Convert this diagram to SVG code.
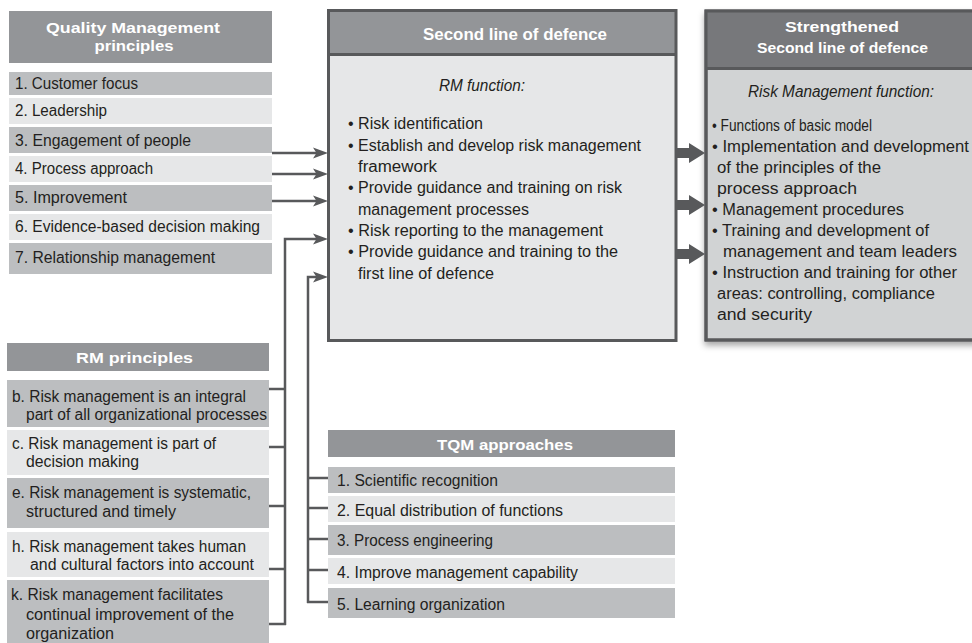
<svg xmlns="http://www.w3.org/2000/svg" width="972" height="643" viewBox="0 0 972 643">
<defs>
<style>
.hd{fill:#939598}
.dk{fill:#bcbec0}
.lt{fill:#e6e7e8}
.t{font-family:"Liberation Sans",Arial,sans-serif;font-size:16px;fill:#231f20}
.i{font-style:italic}
.h{font-family:"Liberation Sans",Arial,sans-serif;font-weight:bold;font-size:15px;fill:#ffffff;text-anchor:middle}
.h16{font-size:16px}
.ln{stroke:#58595b;stroke-width:2.5;fill:none}
.bd{stroke:#58595b;stroke-width:3;fill:none}
.fa{fill:#58595b}
</style>
<marker id="ah" markerWidth="15" markerHeight="12" refX="7" refY="6" orient="auto" markerUnits="userSpaceOnUse">
<path d="M0,0.5 L15,6 L0,11.5 L3.5,6 z" fill="#58595b"/>
</marker>
<filter id="sh" x="-10%" y="-10%" width="130%" height="130%">
<feDropShadow dx="0" dy="4" stdDeviation="3" flood-color="#000000" flood-opacity="0.35"/>
</filter>
</defs>
<rect width="972" height="643" fill="#ffffff"/>

<g id="qm-principles">
<rect class="hd" x="9" y="11" width="263" height="52"/>
<text class="h" x="133" y="33" textLength="174" lengthAdjust="spacingAndGlyphs">Quality Management</text>
<text class="h" x="134" y="51" textLength="79" lengthAdjust="spacingAndGlyphs">principles</text>
<rect class="dk" x="9" y="72" width="263" height="23"/>
<text class="t" x="15" y="89" textLength="123" lengthAdjust="spacingAndGlyphs">1. Customer focus</text>
<rect class="lt" x="9" y="98" width="263" height="26"/>
<text class="t" x="15" y="116" textLength="92" lengthAdjust="spacingAndGlyphs">2. Leadership</text>
<rect class="dk" x="9" y="127" width="263" height="26"/>
<text class="t" x="15" y="146" textLength="176" lengthAdjust="spacingAndGlyphs">3. Engagement of people</text>
<rect class="lt" x="9" y="156" width="263" height="26"/>
<text class="t" x="15" y="174" textLength="138" lengthAdjust="spacingAndGlyphs">4. Process approach</text>
<rect class="dk" x="9" y="185" width="263" height="26"/>
<text class="t" x="15" y="203" textLength="112" lengthAdjust="spacingAndGlyphs">5. Improvement</text>
<rect class="lt" x="9" y="214" width="263" height="26"/>
<text class="t" x="15" y="232" textLength="245" lengthAdjust="spacingAndGlyphs">6. Evidence-based decision making</text>
<rect class="dk" x="9" y="243" width="263" height="31"/>
<text class="t" x="15" y="263" textLength="200" lengthAdjust="spacingAndGlyphs">7. Relationship management</text>
</g>

<g id="second-line">
<rect x="328.5" y="10.5" width="347.5" height="330" fill="#e6e7e8"/>
<rect class="hd" x="328.5" y="10.5" width="347.5" height="44"/>
<line class="bd" x1="328.5" y1="54.5" x2="676" y2="54.5"/>
<rect class="bd" x="328.5" y="10.5" width="347.5" height="330"/>
<text class="h h16" x="515" y="40" textLength="184" lengthAdjust="spacingAndGlyphs">Second line of defence</text>
<text class="t i" x="439" y="91" textLength="86" lengthAdjust="spacingAndGlyphs">RM function:</text>
<text class="t" x="348" y="129" textLength="135" lengthAdjust="spacingAndGlyphs">• Risk identification</text>
<text class="t" x="348" y="151" textLength="293" lengthAdjust="spacingAndGlyphs">• Establish and develop risk management</text>
<text class="t" x="358" y="172" textLength="79" lengthAdjust="spacingAndGlyphs">framework</text>
<text class="t" x="348" y="193" textLength="274" lengthAdjust="spacingAndGlyphs">• Provide guidance and training on risk</text>
<text class="t" x="358" y="215" textLength="171" lengthAdjust="spacingAndGlyphs">management processes</text>
<text class="t" x="348" y="236" textLength="255" lengthAdjust="spacingAndGlyphs">• Risk reporting to the management</text>
<text class="t" x="348" y="257" textLength="270" lengthAdjust="spacingAndGlyphs">• Provide guidance and training to the</text>
<text class="t" x="358" y="278.5" textLength="136" lengthAdjust="spacingAndGlyphs">first line of defence</text>
</g>

<g id="strengthened">
<g filter="url(#sh)">
<rect x="706" y="11" width="290" height="329" fill="#d1d3d4" stroke="#58595b" stroke-width="3"/>
</g>
<rect x="706" y="11" width="290" height="57.5" fill="#77787b"/>
<line class="bd" x1="706" y1="68.5" x2="990" y2="68.5"/>
<rect class="bd" x="706" y="11" width="290" height="329"/>
<text class="h" x="842" y="32" textLength="114" lengthAdjust="spacingAndGlyphs">Strengthened</text>
<text class="h" x="842.5" y="53" textLength="171" lengthAdjust="spacingAndGlyphs">Second line of defence</text>
<text class="t i" x="748" y="97" textLength="186" lengthAdjust="spacingAndGlyphs">Risk Management function:</text>
<text class="t" x="712" y="131" textLength="160" lengthAdjust="spacingAndGlyphs">• Functions of basic model</text>
<text class="t" x="712" y="152" textLength="257" lengthAdjust="spacingAndGlyphs">• Implementation and development</text>
<text class="t" x="717" y="173" textLength="164" lengthAdjust="spacingAndGlyphs">of the principles of the</text>
<text class="t" x="717" y="194" textLength="140" lengthAdjust="spacingAndGlyphs">process approach</text>
<text class="t" x="712" y="215" textLength="192" lengthAdjust="spacingAndGlyphs">• Management procedures</text>
<text class="t" x="712" y="236" textLength="217" lengthAdjust="spacingAndGlyphs">• Training and development of</text>
<text class="t" x="723" y="257" textLength="234" lengthAdjust="spacingAndGlyphs">management and team leaders</text>
<text class="t" x="712" y="278" textLength="245" lengthAdjust="spacingAndGlyphs">• Instruction and training for other</text>
<text class="t" x="717" y="299" textLength="218" lengthAdjust="spacingAndGlyphs">areas: controlling, compliance</text>
<text class="t" x="717" y="320" textLength="95" lengthAdjust="spacingAndGlyphs">and security</text>
</g>

<g id="rm-principles">
<rect class="hd" x="7" y="343" width="262" height="28"/>
<text class="h" x="134.5" y="363" textLength="117" lengthAdjust="spacingAndGlyphs">RM principles</text>
<rect class="dk" x="7" y="380" width="262" height="47"/>
<text class="t" x="12" y="402" textLength="234" lengthAdjust="spacingAndGlyphs">b. Risk management is an integral</text>
<text class="t" x="26" y="419.5" textLength="241" lengthAdjust="spacingAndGlyphs">part of all organizational processes</text>
<rect class="lt" x="7" y="430" width="262" height="45"/>
<text class="t" x="12" y="449" textLength="204" lengthAdjust="spacingAndGlyphs">c. Risk management is part of</text>
<text class="t" x="26" y="467" textLength="113" lengthAdjust="spacingAndGlyphs">decision making</text>
<rect class="dk" x="7" y="478" width="262" height="50"/>
<text class="t" x="12" y="498" textLength="239" lengthAdjust="spacingAndGlyphs">e. Risk management is systematic,</text>
<text class="t" x="26" y="516.5" textLength="150" lengthAdjust="spacingAndGlyphs">structured and timely</text>
<rect class="lt" x="7" y="532" width="262" height="45"/>
<text class="t" x="12" y="551.5" textLength="234" lengthAdjust="spacingAndGlyphs">h. Risk management takes human</text>
<text class="t" x="30" y="570" textLength="224" lengthAdjust="spacingAndGlyphs">and cultural factors into account</text>
<rect class="dk" x="7" y="580" width="262" height="70"/>
<text class="t" x="11" y="600" textLength="212" lengthAdjust="spacingAndGlyphs">k. Risk management facilitates</text>
<text class="t" x="26" y="620" textLength="208" lengthAdjust="spacingAndGlyphs">continual improvement of the</text>
<text class="t" x="26" y="639" textLength="88" lengthAdjust="spacingAndGlyphs">organization</text>
</g>

<g id="tqm-approaches">
<rect class="hd" x="328" y="430" width="347" height="27"/>
<text class="h" x="505" y="450" textLength="136" lengthAdjust="spacingAndGlyphs">TQM approaches</text>
<rect class="dk" x="328" y="467" width="347" height="26"/>
<text class="t" x="337" y="486" textLength="161" lengthAdjust="spacingAndGlyphs">1. Scientific recognition</text>
<rect class="lt" x="328" y="496" width="347" height="26"/>
<text class="t" x="337" y="515.5" textLength="226" lengthAdjust="spacingAndGlyphs">2. Equal distribution of functions</text>
<rect class="dk" x="328" y="525" width="347" height="30"/>
<text class="t" x="337" y="545.5" textLength="156" lengthAdjust="spacingAndGlyphs">3. Process engineering</text>
<rect class="lt" x="328" y="558" width="347" height="26"/>
<text class="t" x="337" y="577.5" textLength="241" lengthAdjust="spacingAndGlyphs">4. Improve management capability</text>
<rect class="dk" x="328" y="588" width="347" height="30"/>
<text class="t" x="337" y="609.5" textLength="168" lengthAdjust="spacingAndGlyphs">5. Learning organization</text>
</g>

<g id="connectors">
<line class="ln" x1="272" y1="153" x2="320" y2="153" marker-end="url(#ah)"/>
<line class="ln" x1="272" y1="174" x2="320" y2="174" marker-end="url(#ah)"/>
<line class="ln" x1="272" y1="201" x2="320" y2="201" marker-end="url(#ah)"/>
<polyline class="ln" points="285,625 285,239 320,239" marker-end="url(#ah)"/>
<line class="ln" x1="269" y1="389" x2="285" y2="389"/>
<line class="ln" x1="269" y1="447" x2="285" y2="447"/>
<line class="ln" x1="269" y1="506" x2="285" y2="506"/>
<line class="ln" x1="269" y1="569" x2="285" y2="569"/>
<line class="ln" x1="269" y1="624" x2="286" y2="624"/>
<polyline class="ln" points="308,603 308,277 320,277" marker-end="url(#ah)"/>
<line class="ln" x1="308" y1="478" x2="328" y2="478"/>
<line class="ln" x1="308" y1="508" x2="328" y2="508"/>
<line class="ln" x1="308" y1="539" x2="328" y2="539"/>
<line class="ln" x1="308" y1="570" x2="328" y2="570"/>
<line class="ln" x1="307" y1="602" x2="328" y2="602"/>
<polygon class="fa" points="677,148 689,148 689,143 705,153 689,163 689,158 677,158"/>
<polygon class="fa" points="677,200 689,200 689,195 705,205 689,215 689,210 677,210"/>
<polygon class="fa" points="677,249 689,249 689,244 705,254 689,264 689,259 677,259"/>
</g>
</svg>
